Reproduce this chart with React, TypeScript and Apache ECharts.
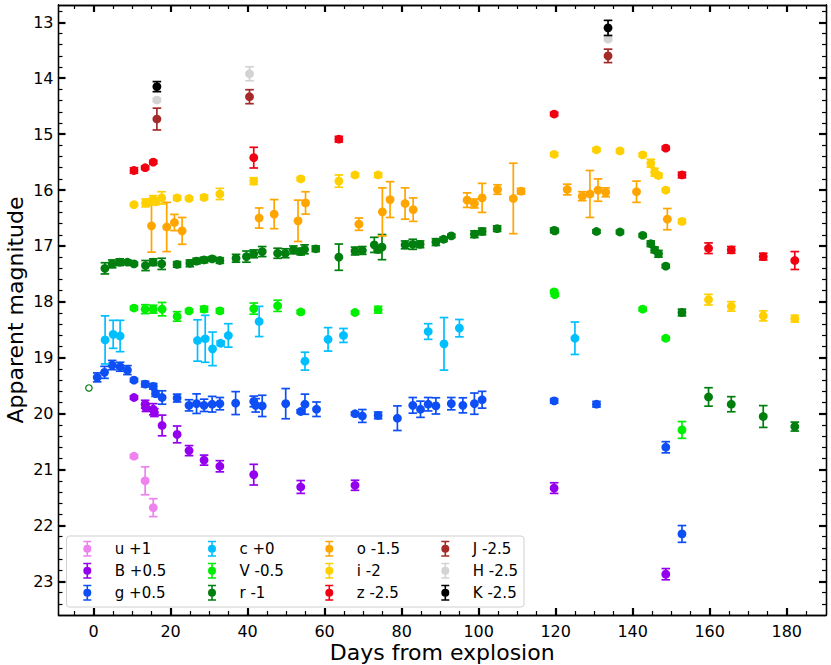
import { useEffect, useRef } from "react";
import * as echarts from "echarts";

// each point is [days, magnitude, error]
const uBand = [[10.5, 20.76, 0.03], [13.4, 21.2, 0.25], [15.5, 21.68, 0.16]];
const bBand = [
  [10.5, 19.71, 0.03], [13.4, 19.83, 0.07], [13.6, 19.89, 0.07], [15.5, 19.92, 0.1], [15.8, 19.98, 0.07],
  [17.8, 20.21, 0.185], [21.7, 20.37, 0.15], [24.8, 20.66, 0.09], [28.7, 20.83, 0.09], [32.8, 20.94, 0.1],
  [41.6, 21.09, 0.185], [53.8, 21.31, 0.115], [67.9, 21.28, 0.09], [119.6, 21.33, 0.095], [148.6, 22.87, 0.1],
];
const gBand = [
  [0.95, 19.35, 0.08], [2.85, 19.26, 0.107], [4.85, 19.13, 0.083], [6.9, 19.16, 0.08], [8.8, 19.22, 0.08],
  [10.5, 19.4, 0.03], [13.4, 19.47, 0.05], [15.5, 19.51, 0.05], [16.1, 19.64, 0.05], [17.8, 19.71, 0.12],
  [21.7, 19.72, 0.07], [24.8, 19.85, 0.1], [26.75, 19.82, 0.175], [28.7, 19.85, 0.11], [30.8, 19.83, 0.14],
  [32.8, 19.82, 0.11], [36.9, 19.81, 0.205], [41.6, 19.78, 0.095], [42.1, 19.85, 0.12], [43.8, 19.86, 0.19],
  [49.9, 19.82, 0.27], [53.8, 19.96, 0.03], [54.9, 19.83, 0.18], [57.9, 19.92, 0.13], [67.9, 20.0, 0.03],
  [69.8, 20.04, 0.115], [73.9, 20.03, 0.06], [78.9, 20.08, 0.22], [82.9, 19.85, 0.14], [84.9, 19.92, 0.145],
  [86.9, 19.83, 0.12], [88.9, 19.86, 0.145], [92.9, 19.82, 0.11], [95.9, 19.85, 0.135], [98.9, 19.82, 0.19],
  [100.9, 19.75, 0.15], [119.6, 19.77, 0.04], [130.6, 19.83, 0.05], [148.6, 20.6, 0.1], [152.8, 22.15, 0.15],
];
const cBand = [
  [3.0, 18.68, 0.43], [5.1, 18.58, 0.25], [6.9, 18.61, 0.28], [27.0, 18.69, 0.37], [29.0, 18.66, 0.42],
  [30.9, 18.84, 0.3], [33.0, 18.74, 0.04], [35.0, 18.6, 0.21], [43.0, 18.35, 0.27], [54.9, 19.06, 0.16],
  [60.9, 18.67, 0.21], [64.9, 18.6, 0.125], [86.9, 18.53, 0.14], [91.0, 18.75, 0.47], [95.0, 18.47, 0.155],
  [125.0, 18.65, 0.29],
];
const vBand = [
  [10.5, 18.11, 0.03], [13.4, 18.13, 0.08], [15.5, 18.13, 0.07], [17.8, 18.13, 0.12], [21.7, 18.26, 0.085],
  [24.8, 18.16, 0.03], [28.7, 18.13, 0.05], [32.8, 18.16, 0.04], [41.6, 18.12, 0.1], [47.8, 18.07, 0.1],
  [53.8, 18.18, 0.03], [67.9, 18.19, 0.03], [73.9, 18.14, 0.06], [119.6, 17.82, 0.03], [119.8, 17.87, 0.03],
  [142.6, 18.13, 0.03], [148.6, 18.65, 0.03], [152.8, 20.29, 0.15],
];
const rBand = [
  [2.95, 17.4, 0.1], [4.85, 17.32, 0.07], [6.8, 17.29, 0.06], [8.8, 17.29, 0.04], [10.5, 17.32, 0.03],
  [13.5, 17.35, 0.09], [15.5, 17.29, 0.06], [17.7, 17.32, 0.1], [21.7, 17.33, 0.05], [25.0, 17.31, 0.06],
  [26.75, 17.27, 0.05], [28.7, 17.25, 0.05], [30.8, 17.23, 0.04], [32.8, 17.26, 0.05], [37.0, 17.22, 0.07],
  [39.7, 17.19, 0.1], [41.6, 17.14, 0.07], [43.8, 17.1, 0.09], [47.8, 17.13, 0.09], [49.8, 17.13, 0.08],
  [51.9, 17.07, 0.07], [53.8, 17.1, 0.06], [54.8, 17.06, 0.08], [57.7, 17.05, 0.05], [63.7, 17.2, 0.235],
  [67.9, 17.09, 0.07], [69.8, 17.08, 0.07], [72.9, 16.98, 0.135], [73.9, 17.06, 0.06], [74.9, 17.02, 0.225],
  [80.9, 16.98, 0.07], [82.9, 16.97, 0.09], [84.8, 16.97, 0.06], [88.9, 16.93, 0.06], [90.9, 16.88, 0.04],
  [92.9, 16.82, 0.03], [98.9, 16.79, 0.06], [100.9, 16.74, 0.06], [104.8, 16.69, 0.05], [119.6, 16.72, 0.04],
  [119.8, 16.73, 0.03], [130.6, 16.74, 0.03], [136.7, 16.75, 0.03], [142.6, 16.81, 0.03], [144.7, 16.96, 0.05],
  [145.7, 17.07, 0.05], [146.7, 17.14, 0.06], [148.6, 17.36, 0.03], [152.8, 18.19, 0.06], [159.7, 19.7, 0.165],
  [165.6, 19.83, 0.135], [173.9, 20.05, 0.195], [182.1, 20.23, 0.08],
];
const oBand = [
  [15.05, 16.64, 0.47], [19.0, 16.66, 0.44], [21.0, 16.58, 0.145], [23.0, 16.73, 0.24], [43.0, 16.5, 0.18],
  [46.9, 16.43, 0.26], [53.1, 16.55, 0.37], [55.05, 16.23, 0.2], [68.9, 16.61, 0.11], [75.0, 16.39, 0.43],
  [77.0, 16.17, 0.32], [80.9, 16.24, 0.28], [83.0, 16.35, 0.21], [97.0, 16.18, 0.13], [98.9, 16.24, 0.08],
  [100.9, 16.14, 0.26], [104.9, 15.99, 0.085], [109.0, 16.15, 0.63], [111.0, 16.02, 0.05], [123.0, 15.99, 0.095],
  [126.9, 16.11, 0.08], [128.9, 16.07, 0.42], [131.0, 16.0, 0.2], [133.0, 16.04, 0.08], [141.0, 16.03, 0.19],
  [149.0, 16.52, 0.19],
];
const iBand = [
  [10.5, 16.26, 0.03], [13.5, 16.23, 0.07], [14.6, 16.21, 0.05], [15.5, 16.17, 0.07], [16.1, 16.21, 0.05],
  [17.7, 16.14, 0.11], [21.7, 16.14, 0.04], [24.8, 16.15, 0.03], [28.7, 16.13, 0.04], [32.8, 16.07, 0.1],
  [41.6, 15.84, 0.06], [53.8, 15.8, 0.03], [63.7, 15.84, 0.11], [67.9, 15.73, 0.03], [73.9, 15.73, 0.04],
  [119.6, 15.36, 0.03], [130.6, 15.28, 0.03], [136.7, 15.3, 0.03], [142.6, 15.37, 0.03], [144.7, 15.52, 0.07],
  [145.7, 15.68, 0.07], [146.7, 15.74, 0.04], [148.6, 16.0, 0.03], [152.8, 16.56, 0.04], [159.7, 17.96, 0.095],
  [165.6, 18.08, 0.085], [173.9, 18.25, 0.09], [182.1, 18.3, 0.06],
];
const zBand = [
  [10.5, 15.65, 0.05], [13.4, 15.6, 0.03], [15.5, 15.5, 0.03], [41.6, 15.42, 0.185], [63.7, 15.09, 0.05],
  [119.6, 14.64, 0.03], [148.6, 15.25, 0.03], [152.8, 15.73, 0.05], [159.7, 17.04, 0.095], [165.6, 17.07, 0.06],
  [173.9, 17.19, 0.06], [182.1, 17.26, 0.16],
];
const jBand = [[16.45, 14.73, 0.195], [40.5, 14.33, 0.125], [133.6, 13.6, 0.12]];
const hBand = [[16.45, 14.39, 0.03], [40.5, 13.92, 0.125], [133.6, 13.3, 0.03]];
const kBand = [[16.45, 14.15, 0.09], [133.6, 13.1, 0.135]];
const rLimit = [[-1.2, 19.54, 0]];

const bands = [
  { name: "u +1", color: "#ee82ee", data: uBand },
  { name: "B +0.5", color: "#9400ee", data: bBand },
  { name: "g +0.5", color: "#0d4ff5", data: gBand },
  { name: "c +0", color: "#00bfff", data: cBand },
  { name: "V -0.5", color: "#00ee00", data: vBand },
  { name: "r -1", color: "#007f0e", data: rBand },
  { name: "o -1.5", color: "#ffa500", data: oBand },
  { name: "i -2", color: "#ffd000", data: iBand },
  { name: "z -2.5", color: "#f00010", data: zBand },
  { name: "J -2.5", color: "#a52a2a", data: jBand },
  { name: "H -2.5", color: "#d3d3d3", data: hBand },
  { name: "K -2.5", color: "#000000", data: kBand },
];

const xMajorTicks = [0, 20, 40, 60, 80, 100, 120, 140, 160, 180];
const xMinorTicks = [
  -5, 5, 10, 15, 25, 30, 35, 45, 50, 55, 65, 70, 75, 85, 90, 95, 105, 110, 115, 125, 130, 135, 145, 150, 155, 165,
  170, 175, 185,
];
const yMajorTicks = [13, 14, 15, 16, 17, 18, 19, 20, 21, 22, 23];
const yMinorTicks = [
  12.8, 13.2, 13.4, 13.6, 13.8, 14.2, 14.4, 14.6, 14.8, 15.2, 15.4, 15.6, 15.8, 16.2, 16.4, 16.6, 16.8, 17.2, 17.4,
  17.6, 17.8, 18.2, 18.4, 18.6, 18.8, 19.2, 19.4, 19.6, 19.8, 20.2, 20.4, 20.6, 20.8, 21.2, 21.4, 21.6, 21.8, 22.2,
  22.4, 22.6, 22.8, 23.2, 23.4,
];

const FONT = "DejaVu Sans";
const X_RANGE = { min: -9.1, max: 190.2 };
const Y_RANGE = { min: 12.69, max: 23.6, inverse: true };
const GRID = { left: 58.5, right: 5, top: 5, bottom: 50, outerBoundsMode: "none" };

// errorbar glyph for the legend: two caps, a bar and the marker
const LEGEND_ICON =
  "path://M0 0H8V1.5H0Z M0 14.5H8V16H0Z M3.2 0H4.8V16H3.2Z M0 8A4 4 0 1 1 8 8A4 4 0 1 1 0 8Z";

function frameAxis(position: string, ticks: number[], length: number, width: number, gridIndex: number, range: object) {
  return {
    type: "value",
    position,
    gridIndex,
    ...range,
    axisLine: { show: true, onZero: false, lineStyle: { color: "#000", width: 1.3 } },
    axisTick: { show: true, inside: true, length, customValues: ticks, lineStyle: { color: "#000", width } },
    axisLabel: { show: false },
    splitLine: { show: false },
  };
}

function renderErrorbar(_params: any, api: any) {
  const x = api.value(0);
  const y = api.value(1);
  const err = api.value(2);
  const color = api.visual("color");
  const mid = api.coord([x, y]);
  const top = api.coord([x, y - err]);
  const bottom = api.coord([x, y + err]);
  const lineStyle = { stroke: color, lineWidth: 1.7 };
  return {
    type: "group",
    children: [
      { type: "line", shape: { x1: mid[0], y1: top[1], x2: mid[0], y2: bottom[1] }, style: lineStyle },
      { type: "line", shape: { x1: mid[0] - 4.3, y1: top[1], x2: mid[0] + 4.3, y2: top[1] }, style: lineStyle },
      { type: "line", shape: { x1: mid[0] - 4.3, y1: bottom[1], x2: mid[0] + 4.3, y2: bottom[1] }, style: lineStyle },
      { type: "circle", shape: { cx: mid[0], cy: mid[1], r: 4.4 }, style: { fill: color } },
    ],
  };
}

function renderLimit(_params: any, api: any) {
  const mid = api.coord([api.value(0), api.value(1)]);
  return {
    type: "circle",
    shape: { cx: mid[0], cy: mid[1], r: 3.2 },
    style: { fill: "#fff", stroke: "#007f0e", lineWidth: 1.2 },
  };
}

function legendColumn(names: string[], left: number) {
  return {
    orient: "vertical",
    left,
    top: 540.7,
    padding: 0,
    itemWidth: 8,
    itemHeight: 16,
    itemGap: 6,
    selectedMode: false,
    data: names.map((name) => ({ name, icon: LEGEND_ICON })),
    textStyle: { fontFamily: FONT, fontSize: 15, color: "#000", padding: [0, 0, 0, 18.5] },
  };
}

export default function App() {
  const chartRef = useRef<HTMLDivElement>(null);

  useEffect(() => {
    if (!chartRef.current) return;

    const chart = echarts.init(chartRef.current, null, { renderer: "svg" });

    const option: any = {
      animation: false,
      backgroundColor: "#fff",
      grid: [GRID, GRID],
      xAxis: [
        {
          ...frameAxis("bottom", xMajorTicks, 7, 2.2, 0, X_RANGE),
          axisLabel: { show: true, customValues: xMajorTicks, fontFamily: FONT, fontSize: 16, color: "#000", margin: 8 },
          name: "Days from explosion",
          nameLocation: "middle",
          nameMoveOverlap: false,
          nameGap: 26,
          nameTextStyle: { fontFamily: FONT, fontSize: 22, color: "#000" },
        },
        frameAxis("top", xMajorTicks, 7, 2.2, 0, X_RANGE),
        frameAxis("bottom", xMinorTicks, 4, 1.2, 1, X_RANGE),
        frameAxis("top", xMinorTicks, 4, 1.2, 1, X_RANGE),
      ],
      yAxis: [
        {
          ...frameAxis("left", yMajorTicks, 7, 2.2, 0, Y_RANGE),
          axisLabel: { show: true, customValues: yMajorTicks, fontFamily: FONT, fontSize: 16, color: "#000", margin: 5 },
          name: "Apparent magnitude",
          nameLocation: "middle",
          nameMoveOverlap: false,
          nameRotate: 90,
          nameGap: 32,
          nameTextStyle: { fontFamily: FONT, fontSize: 22, color: "#000" },
        },
        frameAxis("right", yMajorTicks, 7, 2.2, 0, Y_RANGE),
        frameAxis("left", yMinorTicks, 4, 1.2, 1, Y_RANGE),
        frameAxis("right", yMinorTicks, 4, 1.2, 1, Y_RANGE),
      ],
      legend: [
        legendColumn(["u +1", "B +0.5", "g +0.5"], 83.3),
        legendColumn(["c +0", "V -0.5", "r -1"], 208),
        legendColumn(["o -1.5", "i -2", "z -2.5"], 325.3),
        legendColumn(["J -2.5", "H -2.5", "K -2.5"], 441.3),
      ],
      graphic: [
        {
          type: "rect",
          z: 3,
          shape: { x: 66.5, y: 536, width: 457.5, height: 71, r: 3 },
          style: { fill: "rgba(255,255,255,0.8)", stroke: "#d0d0d0", lineWidth: 1 },
        },
      ],
      series: [
        {
          type: "custom",
          name: "r limit",
          renderItem: renderLimit,
          data: rLimit,
          encode: { x: 0, y: 1 },
        },
        ...bands.map((band) => ({
          type: "custom",
          name: band.name,
          renderItem: renderErrorbar,
          data: band.data,
          encode: { x: 0, y: 1 },
          itemStyle: { color: band.color },
        })),
      ],
    };

    chart.setOption(option);

    return () => {
      chart.dispose();
    };
  }, []);

  return <div ref={chartRef} style={{ position: "absolute", left: 0, top: 0, width: 831, height: 665 }} />;
}
